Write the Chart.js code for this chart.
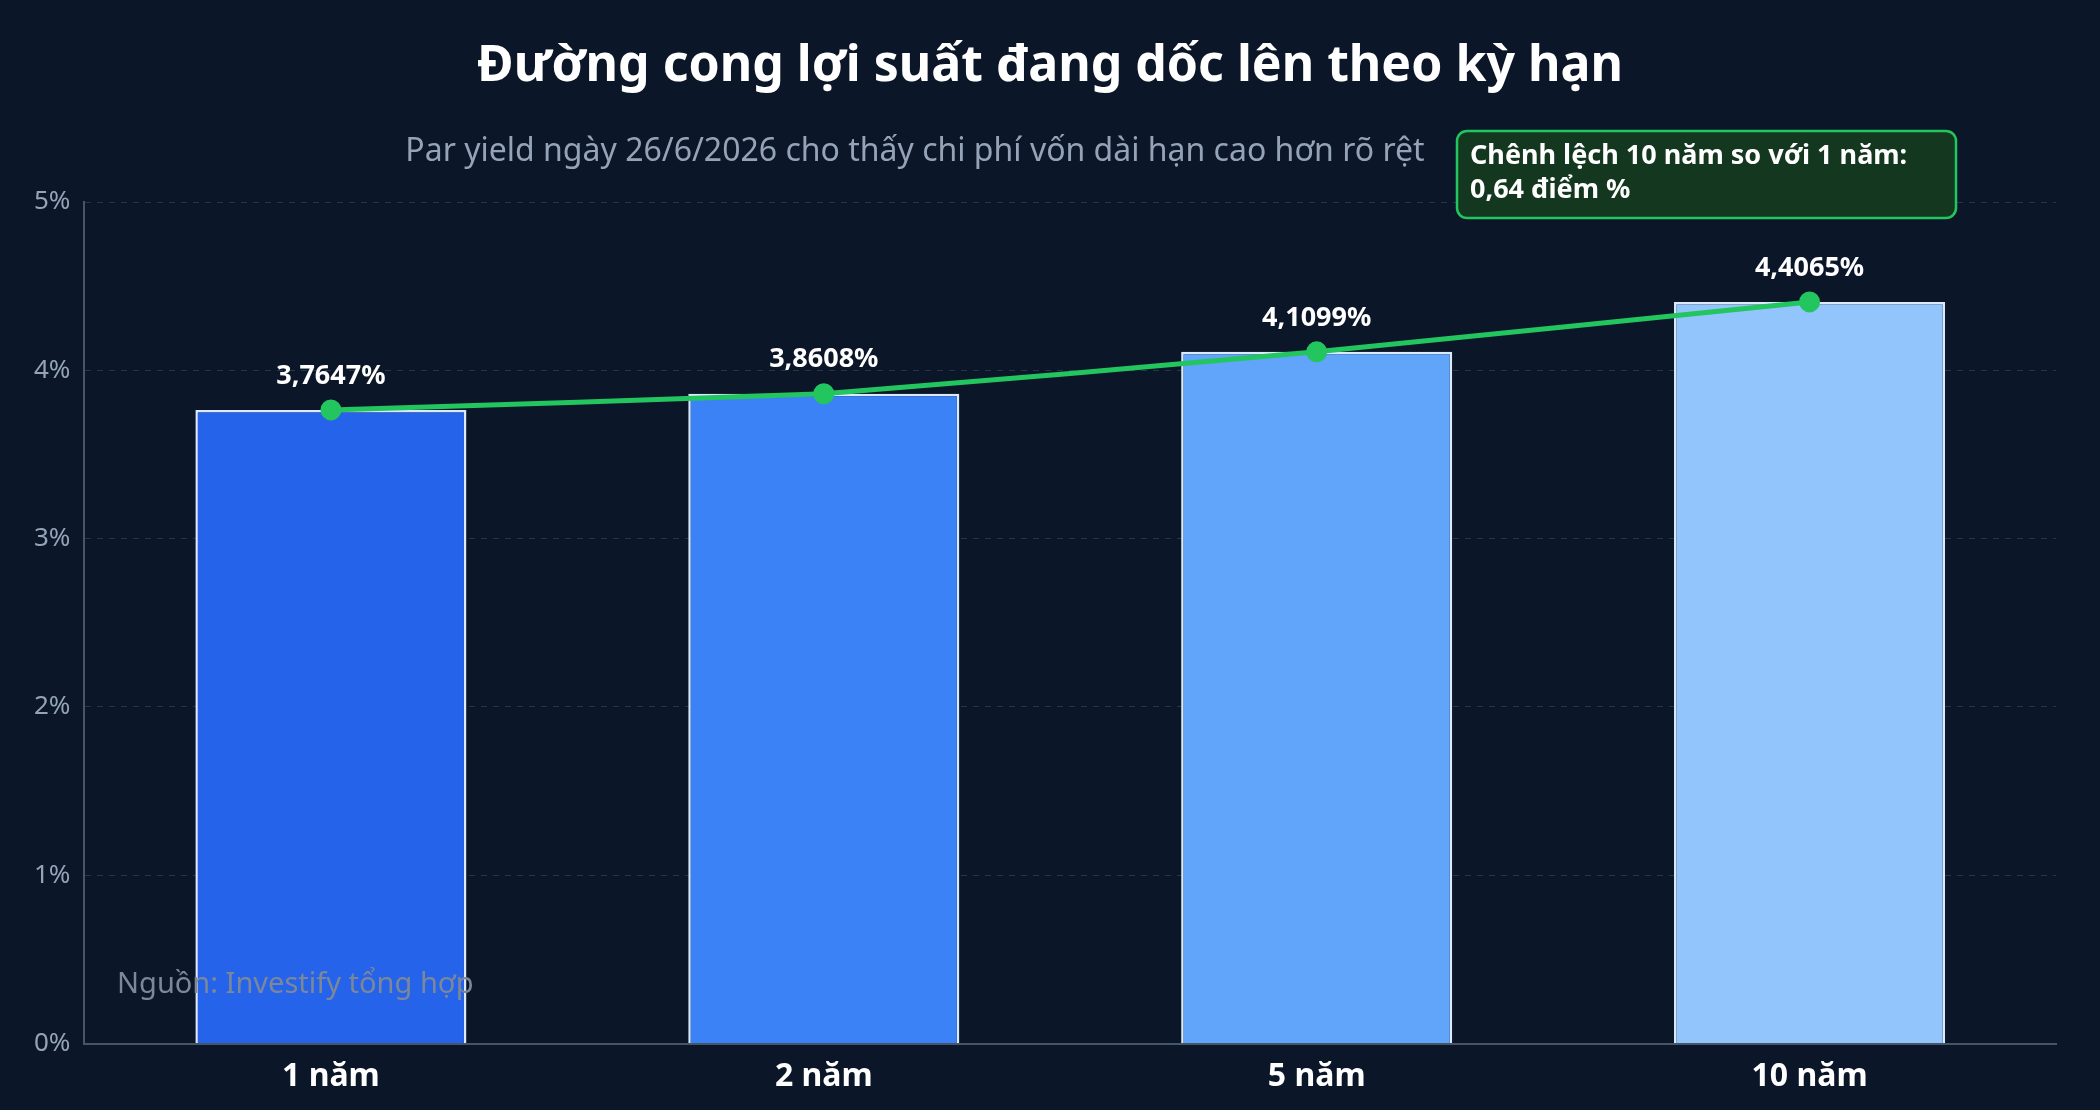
<!DOCTYPE html>
<html><head><meta charset="utf-8">
<script src="https://cdn.jsdelivr.net/npm/chart.js@4"></script>
<style>html,body{margin:0;background:#0b1628;}#w{width:2100px;height:1110px;}</style>
</head><body><div id="w"><canvas id="c"></canvas></div>
<script>
const categories = ["1 năm","2 năm","5 năm","10 năm"];
const yields = [3.7647, 3.8608, 4.1099, 4.4065];
const yTicks = [0,1,2,3,4,5];
const barColors = ["#2563eb","#3b82f6","#60a5fa","#93c5fd"];
const titleText = "Đường cong lợi suất đang dốc lên theo kỳ hạn";
const subtitleText = "Par yield ngày 26/6/2026 cho thấy chi phí vốn dài hạn cao hơn rõ rệt";
const noteLines = ["Chênh lệch 10 năm so với 1 năm:","0,64 điểm %"];
const sourceText = "Nguồn: Investify tổng hợp";
const fmt = v => v.toFixed(4).replace('.',',') + '%';
const F = '"Noto Sans", sans-serif';

const deco = {
  id:'deco',
  afterDraw(chart){
    const ctx = chart.ctx;
    ctx.save();
    ctx.textAlign='center'; ctx.textBaseline='middle';
    ctx.fillStyle='#ffffff'; ctx.font='bold 50px '+F;
    ctx.fillText(titleText,1050,67);
    ctx.fillStyle='#94a3b8'; ctx.font='32px '+F;
    ctx.fillText(subtitleText,915,152);
    // data labels
    const meta = chart.getDatasetMeta(1);
    ctx.fillStyle='#ffffff'; ctx.font='bold 27px '+F;
    meta.data.forEach((p,i)=>{ ctx.fillText(fmt(yields[i]), p.x, p.y-34); });
    // note box
    const bx=1457, by=131, bw=499, bh=87;
    ctx.beginPath(); ctx.roundRect(bx,by,bw,bh,10);
    ctx.fillStyle='#14381f'; ctx.fill();
    ctx.lineWidth=2.5; ctx.strokeStyle='#22c55e'; ctx.stroke();
    ctx.textAlign='left'; ctx.fillStyle='#ffffff'; ctx.font='bold 27px '+F;
    ctx.fillText(noteLines[0], bx+13, by+25);
    ctx.fillText(noteLines[1], bx+13, by+59);
    // source
    ctx.fillStyle='#7c8799'; ctx.font='29px '+F;
    ctx.fillText(sourceText, 117, 985);
    ctx.restore();
  }
};

new Chart(document.getElementById('c'),{
  data:{labels:categories,datasets:[
    {type:'line',data:yields,borderColor:'#22c55e',backgroundColor:'#22c55e',borderWidth:5,pointRadius:8,pointHoverRadius:8,tension:0.1,order:0},
    {type:'bar',data:yields,backgroundColor:barColors,borderColor:'#dbeafe',borderWidth:2.5,barPercentage:0.55,categoryPercentage:1,order:1}
  ]},
  options:{
    responsive:true,maintainAspectRatio:false,animation:false,
    layout:{padding:{top:202,left:20,right:44,bottom:8}},
    plugins:{legend:{display:false},tooltip:{enabled:false}},
    scales:{
      x:{grid:{display:false},border:{color:'#475569',width:2},
         ticks:{color:'#ffffff',font:{family:F,size:32,weight:'bold'},padding:6}},
      y:{min:0,max:5,afterBuildTicks(a){a.ticks=yTicks.map(v=>({value:v}));},
         grid:{color:'rgba(148,163,184,0.22)',drawTicks:false},
         border:{color:'#475569',width:2,dash:[6,6]},
         ticks:{color:'#94a3b8',font:{family:F,size:26},padding:14,callback:v=>v+'%'}}
    }
  },
  plugins:[deco]
});
</script></body></html>
